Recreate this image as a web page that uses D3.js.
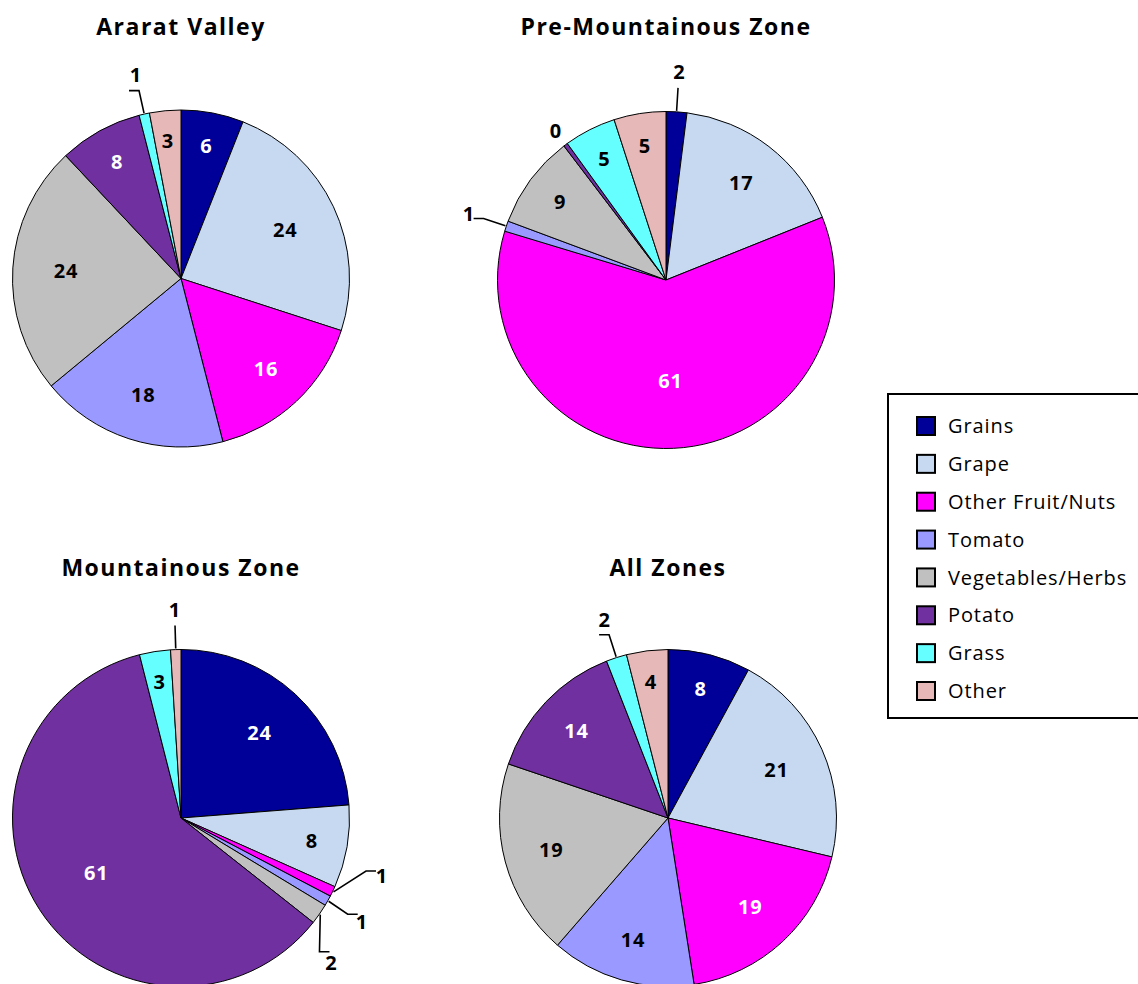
<!DOCTYPE html>
<html>
<head>
<meta charset="utf-8">
<script src="https://cdn.jsdelivr.net/npm/d3@7"></script>
<style>
  html, body { margin: 0; padding: 0; background: #fff; }
  svg { display: block; }
  text { font-family: "Open Sans", "DejaVu Sans", sans-serif; }
</style>
</head>
<body>
<svg id="chart" width="1138" height="984"></svg>
<script>
// Crop groups shown in every pie, in drawing order (clockwise from 12 o'clock)
const categories = ["Grains", "Grape", "Other Fruit/Nuts", "Tomato",
                    "Vegetables/Herbs", "Potato", "Grass", "Other"];
const sliceColors = ["#000099", "#C6D9F0", "#FF00FF", "#9999FF",
                     "#C0C0C0", "#7030A0", "#66FFFF", "#E6B9B8"];
// labels drawn in white on the dark slices
const lightText = ["Grains", "Other Fruit/Nuts", "Potato"];

// Share of each crop group (%) per zone
const araratValley   = [6, 24, 16, 18, 24, 8, 1, 3];
const preMountainous = [2, 17, 61, 1, 9, 0.4, 5, 5];
const mountainous    = [24, 8, 1, 1, 2, 61, 3, 1];
const allZones       = [8, 21, 19, 14, 19, 14, 2, 4];

const zoneTitles = ["Ararat Valley", "Pre-Mountainous Zone", "Mountainous Zone", "All Zones"];
const zoneValues = [araratValley, preMountainous, mountainous, allZones];

const svg = d3.select("#chart");

const radius = 168.5;
const centres = [[181, 278.5], [666, 280], [181, 818], [668, 818]];
const titleY = [35, 35, 576, 576];

const fmt = d3.format(".0f");
const pie = d3.pie().sort(null).value(d => d);
const arc = d3.arc().innerRadius(0).outerRadius(radius);

// point at angle a (radians, clockwise from north) and distance r
const polar = (a, r) => [Math.sin(a) * r, -Math.cos(a) * r];

zoneValues.forEach((vals, i) => {
  const [cx, cy] = centres[i];
  const total = d3.sum(vals);
  const g = svg.append("g").attr("transform", `translate(${cx},${cy})`);

  svg.append("text")
    .attr("x", cx).attr("y", titleY[i])
    .attr("text-anchor", "middle")
    .attr("font-size", 23).attr("font-weight", 700)
    .attr("letter-spacing", "1.5px")
    .attr("fill", "#000")
    .text(zoneTitles[i]);

  const arcs = pie(vals).map((d, k) => Object.assign(d, {
    cat: categories[k],
    color: sliceColors[k],
    pct: d.value / total * 100,
    mid: (d.startAngle + d.endAngle) / 2
  }));

  g.selectAll("path.slice")
    .data(arcs)
    .join("path")
    .attr("class", "slice")
    .attr("d", arc)
    .attr("fill", d => d.color)
    .attr("stroke", "#000")
    .attr("stroke-width", 1)
    .attr("stroke-linejoin", "round");

  // wide slices: label inside, further out for narrower slices
  const inside = arcs.filter(d => d.pct > 2.5);
  g.selectAll("text.inner")
    .data(inside)
    .join("text")
    .attr("class", "inner")
    .attr("transform", d => {
      const f = Math.max(0.6, 0.84 - 0.0065 * d.pct);
      const [x, y] = polar(d.mid, radius * f);
      return `translate(${x},${y})`;
    })
    .attr("text-anchor", "middle")
    .attr("dy", "0.36em")
    .attr("font-size", 20).attr("font-weight", 700)
    .attr("letter-spacing", "0.8px")
    .attr("fill", d => lightText.includes(d.cat) ? "#fff" : "#000")
    .text(d => fmt(d.value));

  // thin slices: label outside with a leader line, spread apart when crowded
  const outside = arcs.filter(d => d.pct <= 2.5).map(d => ({ d, a: d.mid }));
  outside.sort((p, q) => p.a - q.a);
  const minSep = 14 * Math.PI / 180;
  for (let pass = 0; pass < 30; pass++) {
    for (let k = 1; k < outside.length; k++) {
      const gap = outside[k].a - outside[k - 1].a;
      if (gap < minSep) {
        const push = (minSep - gap) / 2;
        outside[k - 1].a -= push;
        outside[k].a += push;
      }
    }
  }

  outside.forEach(o => {
    const d = o.d;
    const isZero = Math.round(d.value) === 0;
    const labelR = isZero ? radius + 17 : radius + 40;
    const [lx, ly] = polar(o.a, labelR);
    if (!isZero) {
      const p0 = polar(d.mid, radius + 1);
      const p1 = polar(o.a, radius + 24);
      const side = Math.sin(o.a) >= 0 ? 1 : -1;
      const p2 = Math.abs(Math.sin(o.a)) > 0.2 ? [p1[0] + side * 10, p1[1]] : p1;
      g.append("path")
        .attr("d", d3.line()([p0, p1, p2]))
        .attr("fill", "none")
        .attr("stroke", "#000")
        .attr("stroke-width", 1.6);
    }
    g.append("text")
      .attr("x", lx).attr("y", ly)
      .attr("text-anchor", "middle")
      .attr("dy", "0.36em")
      .attr("font-size", 20).attr("font-weight", 700)
      .attr("fill", "#000")
      .text(fmt(d.value));
  });
});

// Legend
const legend = svg.append("g").attr("transform", "translate(888,394)");
legend.append("rect")
  .attr("x", 0).attr("y", 0)
  .attr("width", 262).attr("height", 324)
  .attr("fill", "#fff")
  .attr("stroke", "#000")
  .attr("stroke-width", 2);

const rowY = d3.scalePoint().domain(categories).range([32, 297]);
const rows = legend.selectAll("g.item")
  .data(categories)
  .join("g")
  .attr("class", "item")
  .attr("transform", d => `translate(0,${rowY(d)})`);
rows.append("rect")
  .attr("x", 29).attr("y", -9)
  .attr("width", 18).attr("height", 18)
  .attr("fill", (d, k) => sliceColors[k])
  .attr("stroke", "#000")
  .attr("stroke-width", 2);
rows.append("text")
  .attr("x", 60)
  .attr("dy", "0.36em")
  .attr("font-size", 20)
  .attr("letter-spacing", "0.9px")
  .attr("fill", "#000")
  .text(d => d);
</script>
</body>
</html>
